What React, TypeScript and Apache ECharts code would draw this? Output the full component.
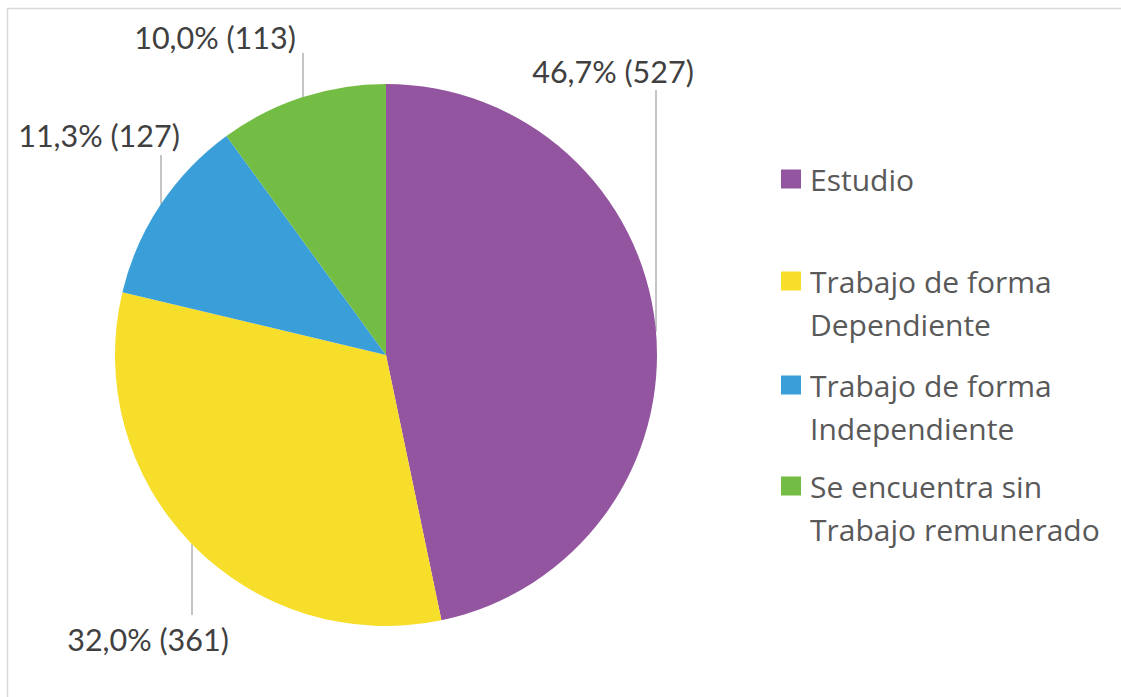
import React, { useEffect, useRef } from 'react';
import * as echarts from 'echarts';

const categories = [
  'Estudio',
  'Trabajo de forma Dependiente',
  'Trabajo de forma Independiente',
  'Se encuentra sin Trabajo remunerado',
];
const legendLines = [
  ['Estudio'],
  ['Trabajo de forma', 'Dependiente'],
  ['Trabajo de forma', 'Independiente'],
  ['Se encuentra sin', 'Trabajo remunerado'],
];
const values = [527, 361, 127, 113];
const colors = ['#93559F', '#F7DE2B', '#3A9FD8', '#74BD44'];

// label placement (text centre) and leader line x / outer end
const labelCenters = [
  [613, 71],
  [148, 639],
  [99, 135],
  [215, 37],
];
const leaderX = [656, 192, 161, 303];
const leaderEndY = [90, 615, 155, 53];
const legendIconCenters = [179, 281, 385, 486];

const CX = 386;
const CY = 355;
const R = 271;
const LABEL_FONT = 'Lato, "Open Sans", sans-serif';
const LEGEND_FONT = '"Open Sans", Lato, sans-serif';

export default function App() {
  const ref = useRef<HTMLDivElement>(null);
  useEffect(() => {
    document.body.style.margin = '0';
    const chart = echarts.init(ref.current!, null, { renderer: 'svg' });
    const total = values.reduce((a, b) => a + b, 0);
    const LH = 43;
    const legendText = {
      fontFamily: LEGEND_FONT,
      fontSize: 30,
      lineHeight: LH,
      color: '#595959',
    };
    const legends = categories.map((name, i) => {
      const lines = legendLines[i].length;
      const blockLines = lines > 1 ? lines + 1 : lines;
      const blockH = blockLines * LH;
      return {
        data: [name],
        left: 781,
        top: legendIconCenters[i] - blockH / 2,
        orient: 'vertical',
        padding: 0,
        icon: 'rect',
        itemWidth: 20,
        itemHeight: 19,
        selectedMode: false,
        formatter: () =>
          (lines > 1 ? '{t| }\n' : '') +
          legendLines[i].map((l) => `{t|${l}}`).join('\n'),
        textStyle: {
          ...legendText,
          rich: {
            t: { ...legendText, padding: [0, 0, 0, 4] },
          },
        },
      };
    });
    chart.setOption({
      animation: false,
      backgroundColor: '#ffffff',
      color: colors,
      legend: legends,
      graphic: [
        {
          type: 'rect',
          shape: { x: 7.5, y: 8.5, width: 1300, height: 900 },
          style: { fill: 'none', stroke: '#d9d9d9', lineWidth: 1.5 },
          silent: true,
        },
      ],
      series: [
        {
          type: 'pie',
          center: [CX, CY],
          radius: R,
          startAngle: 90,
          clockwise: true,
          avoidLabelOverlap: false,
          itemStyle: { borderWidth: 0 },
          data: categories.map((name, i) => ({ name, value: values[i] })),
          label: {
            show: true,
            position: 'outside',
            fontFamily: LABEL_FONT,
            fontSize: 30.5,
            color: '#404040',
            formatter: (p: any) => {
              const pct = ((p.value / total) * 100).toFixed(1).replace('.', ',');
              return `${pct}% (${p.value})`;
            },
          },
          labelLine: {
            show: true,
            lineStyle: { color: '#a6a6a6', width: 1.3 },
          },
          labelLayout: (params: any) => {
            const i = params.dataIndex;
            const x = leaderX[i];
            const endY = leaderEndY[i];
            const dy = Math.sqrt(Math.max(0, R * R - (x - CX) * (x - CX)));
            const edgeY = endY < CY ? CY - dy : CY + dy;
            return {
              x: labelCenters[i][0],
              y: labelCenters[i][1],
              align: 'center',
              verticalAlign: 'middle',
              labelLinePoints: [
                [x, edgeY],
                [x, (edgeY + endY) / 2],
                [x, endY],
              ],
            };
          },
        },
      ],
    });
    return () => chart.dispose();
  }, []);
  return <div ref={ref} style={{ width: 1121, height: 697 }} />;
}
